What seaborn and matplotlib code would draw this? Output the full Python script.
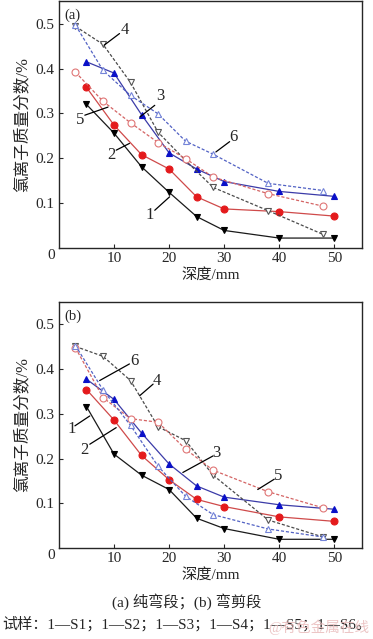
"""
Chloride ion content vs depth, two beam segments (a) and (b)
"""
import matplotlib.pyplot as plt
import numpy as np
import pandas as pd
import seaborn as sns

# depths (mm): solid series use x_solid, dashed series use x_dash
x_solid = [5, 10, 15, 20, 25, 30, 40, 50]
x_dash = [3, 8, 13, 18, 23, 28, 38, 48]

# panel (a) pure bending segment
a_s1 = [0.320, 0.256, 0.181, 0.124, 0.070, 0.039, 0.022, 0.022]
a_s2 = [0.358, 0.274, 0.208, 0.176, 0.114, 0.087, 0.081, 0.071]
a_s3 = [0.415, 0.390, 0.297, 0.212, 0.176, 0.148, 0.126, 0.115]
a_s4 = [0.494, 0.454, 0.369, 0.258, 0.195, 0.135, 0.083, 0.030]
a_s5 = [0.392, 0.327, 0.279, 0.235, 0.199, 0.158, 0.121, 0.093]
a_s6 = [0.497, 0.396, 0.340, 0.299, 0.238, 0.209, 0.144, 0.128]

# panel (b) bending-shear segment
b_s1 = [0.316, 0.210, 0.163, 0.131, 0.067, 0.044, 0.020, 0.020]
b_s2 = [0.354, 0.286, 0.207, 0.153, 0.109, 0.093, 0.070, 0.060]
b_s3 = [0.377, 0.332, 0.257, 0.188, 0.139, 0.114, 0.097, 0.087]
b_s4 = [0.450, 0.428, 0.374, 0.271, 0.240, 0.163, 0.063, 0.025]
b_s5 = [0.447, 0.336, 0.289, 0.281, 0.221, 0.174, 0.126, 0.090]
b_s6 = [0.452, 0.353, 0.274, 0.183, 0.116, 0.075, 0.043, 0.025]

# style per series: line colour, marker, marker face, marker edge, dashed
styles = [
    ("#1a1a1a", "v", "#000000", "#000000", False),
    ("#cf4a4a", "o", "#e41a1c", "#e41a1c", False),
    ("#3b3ba8", "^", "#0a10c8", "#0a10c8", False),
    ("#4a4a4a", "v", "white", "#555555", True),
    ("#d46464", "o", "white", "#e07676", True),
    ("#5262c4", "^", "white", "#7484d8", True),
]

# leader annotations: label, text pos, line start, line end (data units)
notes_a = [
    ("4", (11.9, 0.487), (8.2, 0.452), (11.0, 0.478)),
    ("3", (18.5, 0.338), (14.7, 0.292), (17.4, 0.318)),
    ("5", (3.8, 0.286), (4.7, 0.296), (8.9, 0.314)),
    ("2", (9.5, 0.207), (10.4, 0.218), (12.8, 0.233)),
    ("1", (16.5, 0.073), (17.4, 0.084), (20.1, 0.114)),
    ("6", (31.6, 0.247), (28.5, 0.214), (31.0, 0.237)),
]
notes_b = [
    ("6", (13.8, 0.418), (7.4, 0.374), (12.8, 0.411)),
    ("4", (17.8, 0.374), (14.65, 0.340), (17.1, 0.366)),
    ("1", (2.3, 0.267), (2.9, 0.273), (5.6, 0.295)),
    ("2", (4.7, 0.219), (5.6, 0.232), (10.4, 0.269)),
    ("3", (28.6, 0.213), (22.5, 0.169), (28.0, 0.206)),
    ("5", (39.8, 0.161), (36.1, 0.131), (39.1, 0.154)),
]

sns.set_style("ticks")
plt.rcParams["font.family"] = ["Liberation Serif", "Noto Sans CJK SC", "DejaVu Sans"]
plt.rcParams["axes.linewidth"] = 1.0
plt.rcParams["xtick.direction"] = "in"
plt.rcParams["ytick.direction"] = "in"

fig = plt.figure(figsize=(3.73, 6.39), dpi=100)
ax_a = fig.add_axes([0.158, 0.612, 0.812, 0.386])
ax_b = fig.add_axes([0.158, 0.142, 0.812, 0.386])


def draw_panel(ax, data, notes, tag):
    for i, ys in enumerate(data):
        col, mk, mfc, mec, dashed = styles[i]
        xs = x_dash if dashed else x_solid
        df = pd.DataFrame({"x": xs, "y": ys})
        sns.lineplot(data=df, x="x", y="y", ax=ax, color=col, lw=0.9,
                     linestyle=(0, (2.5, 1.5)) if dashed else "-",
                     marker=mk, markersize=5, markerfacecolor=mfc,
                     markeredgecolor=mec, markeredgewidth=0.8, zorder=3)
    for lab, tpos, p0, p1 in notes:
        ax.plot([p0[0], p1[0]], [p0[1], p1[1]], color="black", lw=0.9, zorder=4)
        ax.text(tpos[0], tpos[1], lab, fontsize=12, ha="center", va="center")
    ax.set_xlim(0, 55)
    ax.set_ylim(0, 0.55)
    ax.set_xticks([10, 20, 30, 40, 50])
    ax.set_yticks([0.1, 0.2, 0.3, 0.4, 0.5])
    ax.set_yticklabels(["0.1", "0.2", "0.3", "0.4", "0.5"])
    ax.tick_params(direction="in", length=3, width=0.8, labelsize=11, pad=3)
    ax.text(-0.012, -0.005, "0", transform=ax.transAxes, fontsize=11,
            ha="right", va="top")
    ax.text(2.5, 0.518, tag, fontsize=10.5, ha="center", va="center")
    ax.set_xlabel("深度/mm", fontsize=11, labelpad=2)
    ax.set_ylabel("氯离子质量分数/%", fontsize=12, labelpad=4)


draw_panel(ax_a, [a_s1, a_s2, a_s3, a_s4, a_s5, a_s6], notes_a, "(a)")
draw_panel(ax_b, [b_s1, b_s2, b_s3, b_s4, b_s5, b_s6], notes_b, "(b)")

fig.text(0.5, 1 - 601.7 / 639, "(a) 纯弯段；(b) 弯剪段", fontsize=11,
         ha="center", va="center")
fig.text(0.006, 1 - 623.5 / 639, "试样：1—S1；1—S2；1—S3；1—S4；1—S5；1—S6。",
         fontsize=10.9, ha="left", va="center")
# faint watermark over the bottom right, as in the source image
fig.text(0.99, 1 - 627 / 639, "@有色金属在线", fontsize=10.5, color="#e8b8b8",
         alpha=0.8, ha="right", va="center")

plt.savefig("out.png", dpi=100)
